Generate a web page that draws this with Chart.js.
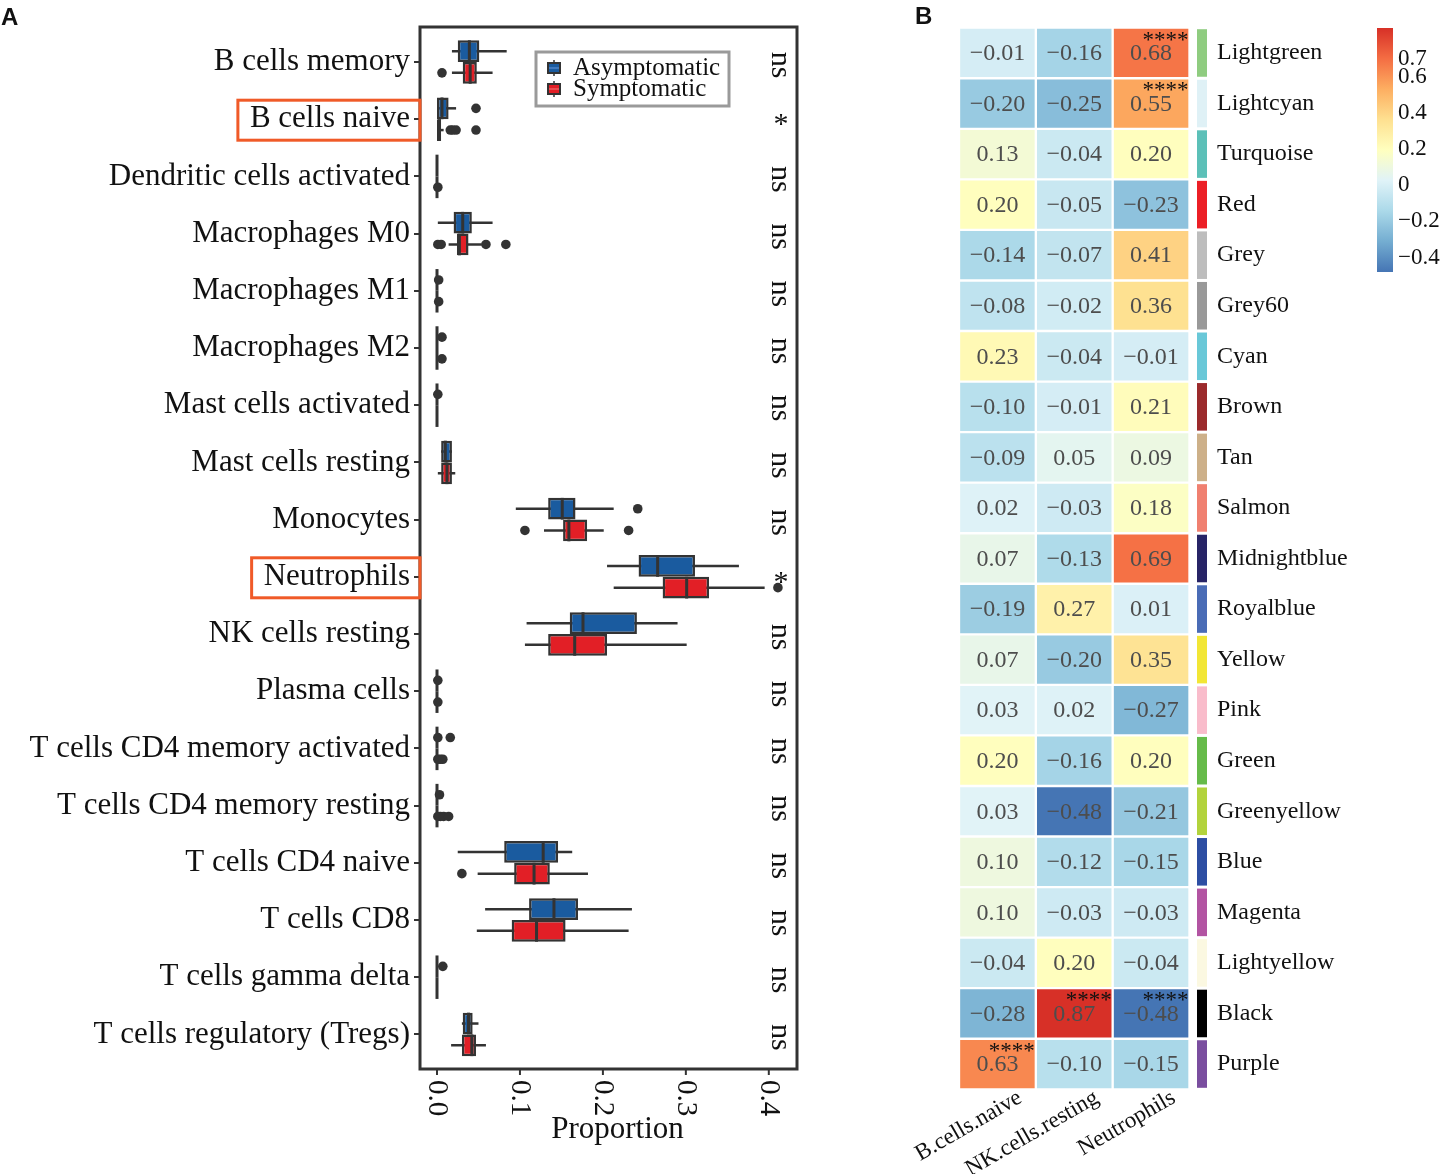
<!DOCTYPE html>
<html>
<head>
<meta charset="utf-8">
<script src="https://cdn.jsdelivr.net/npm/chart.js@4.4.0/dist/chart.umd.min.js"></script>
<style>
    body { margin: 0; background: #fff; width: 1443px; height: 1174px; position: relative; overflow: hidden; }
    canvas { position: absolute; top: 0; }
    #boxChart { left: 0; }
    #heatChart { left: 900px; }
</style>
</head>
<body>
<canvas id="boxChart" width="900" height="1174"></canvas>
<canvas id="heatChart" width="543" height="1174"></canvas>
<script>
/* Panel A data: immune cell proportions */
let cellTypes = ["B cells memory", "B cells naive", "Dendritic cells activated", "Macrophages M0",
    "Macrophages M1", "Macrophages M2", "Mast cells activated", "Mast cells resting", "Monocytes",
    "Neutrophils", "NK cells resting", "Plasma cells", "T cells CD4 memory activated",
    "T cells CD4 memory resting", "T cells CD4 naive", "T cells CD8", "T cells gamma delta",
    "T cells regulatory (Tregs)"];
let significance = ["ns", "*", "ns", "ns", "ns", "ns", "ns", "ns", "ns", "*", "ns", "ns", "ns", "ns", "ns", "ns", "ns", "ns"];
let highlighted = ["B cells naive", "Neutrophils"];
let xTicks = [0.0, 0.1, 0.2, 0.3, 0.4];

let asymLo  = [0.018, 0, 0, 0.001, 0, 0, 0, 0.005, 0.095, 0.205, 0.108, 0, 0, 0, 0.025, 0.058, 0, 0.030];
let asymQ1  = [0.025, 0, 0, 0.020, 0, 0, 0, 0.005, 0.134, 0.243, 0.160, 0, 0, 0, 0.081, 0.111, 0, 0.031];
let asymMed = [0.039, 0.006, 0, 0.031, 0, 0, 0, 0.010, 0.151, 0.266, 0.176, 0, 0, 0, 0.128, 0.141, 0, 0.038];
let asymQ3  = [0.051, 0.014, 0, 0.042, 0, 0, 0, 0.018, 0.167, 0.311, 0.241, 0, 0, 0, 0.146, 0.170, 0, 0.043];
let asymHi  = [0.084, 0.023, 0, 0.067, 0, 0, 0, 0.018, 0.213, 0.364, 0.290, 0, 0, 0, 0.163, 0.235, 0, 0.050];
let asymOut = [[], [0.047], [], [], [0.002], [0.006], [0.001], [], [0.242], [], [], [0.001],
    [0.001, 0.016], [0.003], [], [], [0.007], []];

let symLo  = [0.018, 0, 0, 0.014, 0, 0, 0, 0.001, 0.129, 0.213, 0.106, 0, 0, 0, 0.049, 0.048, 0, 0.017];
let symQ1  = [0.031, 0, 0, 0.024, 0, 0, 0, 0.005, 0.152, 0.272, 0.134, 0, 0, 0, 0.093, 0.090, 0, 0.030];
let symMed = [0.040, 0.003, 0, 0.027, 0, 0, 0, 0.012, 0.159, 0.301, 0.166, 0, 0, 0, 0.117, 0.120, 0, 0.042];
let symQ3  = [0.048, 0.005, 0, 0.038, 0, 0, 0, 0.018, 0.181, 0.328, 0.205, 0, 0, 0, 0.136, 0.155, 0, 0.047];
let symHi  = [0.067, 0.008, 0, 0.054, 0, 0, 0, 0.022, 0.201, 0.395, 0.301, 0, 0, 0, 0.182, 0.231, 0, 0.059];
let symOut = [[0.006], [0.016, 0.019, 0.023, 0.047], [0.001], [0.001, 0.005, 0.059, 0.083], [0.002],
    [0.006], [], [], [0.106, 0.231], [0.411], [], [0.001], [0.001, 0.004, 0.007],
    [0.001, 0.004, 0.008, 0.014], [0.030], [], [], []];

/* Panel B data: module-trait correlations */
let modules = ["Lightgreen", "Lightcyan", "Turquoise", "Red", "Grey", "Grey60", "Cyan", "Brown", "Tan",
    "Salmon", "Midnightblue", "Royalblue", "Yellow", "Pink", "Green", "Greenyellow", "Blue", "Magenta",
    "Lightyellow", "Black", "Purple"];
let moduleColors = ["#8fcc80", "#dff1f6", "#5cc0b8", "#ec1f26", "#bdbdbd", "#999999", "#69c8d8", "#9b2a2c",
    "#cdb089", "#f08070", "#272466", "#4a6cb6", "#f2e635", "#f9bccb", "#66bb4a", "#b2d33c", "#2d4ea3",
    "#b254a2", "#fbf8e1", "#000000", "#7a4e9f"];
let traits = ["B.cells.naive", "NK.cells.resting", "Neutrophils"];
let corrBNaive = [-0.01, -0.20, 0.13, 0.20, -0.14, -0.08, 0.23, -0.10, -0.09, 0.02, 0.07, -0.19, 0.07, 0.03, 0.20, 0.03, 0.10, 0.10, -0.04, -0.28, 0.63];
let corrNK     = [-0.16, -0.25, -0.04, -0.05, -0.07, -0.02, -0.04, -0.01, 0.05, -0.03, -0.13, 0.27, -0.20, 0.02, -0.16, -0.48, -0.12, -0.03, 0.20, 0.87, -0.10];
let corrNeut   = [0.68, 0.55, 0.20, -0.23, 0.41, 0.36, -0.01, 0.21, 0.09, 0.18, 0.69, 0.01, 0.35, -0.27, 0.20, -0.21, -0.15, -0.03, -0.04, -0.48, -0.15];
let starsBNaive = ["", "", "", "", "", "", "", "", "", "", "", "", "", "", "", "", "", "", "", "", "****"];
let starsNK     = ["", "", "", "", "", "", "", "", "", "", "", "", "", "", "", "", "", "", "", "****", ""];
let starsNeut   = ["****", "****", "", "", "", "", "", "", "", "", "", "", "", "", "", "", "", "", "", "****", ""];
let legendTicks = [0.7, 0.6, 0.4, 0.2, 0, -0.2, -0.4];

let serif = "'Liberation Serif', 'DejaVu Serif', serif";
let dark = "#333333";

/* Box whiskers, medians, outliers drawn on the x scale */
const boxPlugin = {
    id: "boxes",
    beforeDatasetsDraw(chart) {
        const ctx = chart.ctx, xs = chart.scales.x;
        ctx.save();
        ctx.strokeStyle = dark;
        ctx.lineWidth = 2.5;
        chart.data.datasets.forEach((ds, d) => {
            chart.getDatasetMeta(d).data.forEach((bar, i) => {
                ctx.beginPath();
                ctx.moveTo(xs.getPixelForValue(ds.lo[i]), bar.y);
                ctx.lineTo(xs.getPixelForValue(ds.hi[i]), bar.y);
                ctx.stroke();
            });
        });
        ctx.restore();
    },
    afterDatasetsDraw(chart) {
        const ctx = chart.ctx, xs = chart.scales.x;
        ctx.save();
        chart.data.datasets.forEach((ds, d) => {
            chart.getDatasetMeta(d).data.forEach((bar, i) => {
                let mx = xs.getPixelForValue(ds.med[i]);
                ctx.strokeStyle = dark;
                ctx.lineWidth = 3;
                ctx.beginPath();
                ctx.moveTo(mx, bar.y - bar.height / 2);
                ctx.lineTo(mx, bar.y + bar.height / 2);
                ctx.stroke();
                ctx.fillStyle = dark;
                ds.out[i].forEach(v => {
                    ctx.beginPath();
                    ctx.arc(xs.getPixelForValue(v), bar.y, 4.8, 0, Math.PI * 2);
                    ctx.fill();
                });
            });
        });
        ctx.restore();
    },
    afterDraw(chart) {
        const ctx = chart.ctx, xs = chart.scales.x, ys = chart.scales.y, a = chart.chartArea;
        const frameTop = a.top - 6.4, frameBottom = a.bottom + 6;
        ctx.save();
        // frame
        ctx.strokeStyle = dark;
        ctx.lineWidth = 3;
        ctx.strokeRect(a.left, frameTop, a.right - a.left, frameBottom - frameTop);
        // x ticks, rotated labels
        ctx.lineWidth = 2;
        ctx.fillStyle = "#111";
        ctx.font = "29px " + serif;
        xTicks.forEach(v => {
            let px = xs.getPixelForValue(v);
            ctx.beginPath();
            ctx.moveTo(px, frameBottom);
            ctx.lineTo(px, frameBottom + 6);
            ctx.stroke();
            ctx.save();
            ctx.translate(px, frameBottom + 11);
            ctx.rotate(Math.PI / 2);
            ctx.textAlign = "left";
            ctx.textBaseline = "middle";
            ctx.fillText(v.toFixed(1), 0, 0);
            ctx.restore();
        });
        ctx.font = "31px " + serif;
        ctx.textAlign = "center";
        ctx.textBaseline = "middle";
        ctx.fillText("Proportion", (a.left + a.right) / 2 + 9, 1130);
        // significance
        significance.forEach((s, i) => {
            let py = ys.getPixelForValue(i);
            ctx.save();
            ctx.font = "30px " + serif;
            if (s === "ns") {
                ctx.translate(a.right - 17, py + 3);
                ctx.rotate(Math.PI / 2);
                ctx.fillText(s, 0, 0);
            } else {
                ctx.fillText(s, a.right - 16, py + 6);
            }
            ctx.restore();
        });
        // highlighted labels
        ctx.font = "31px " + serif;
        ctx.strokeStyle = "#f05a28";
        ctx.lineWidth = 3;
        highlighted.forEach(name => {
            let i = cellTypes.indexOf(name);
            let py = ys.getPixelForValue(i);
            let w = ctx.measureText(name).width;
            let right = a.left - 6;
            ctx.strokeRect(right - 4 - w - 12, py - 19, w + 12 + 10, 40);
        });
        // legend
        let lx = a.left + 116, ly = frameTop + 25;
        ctx.strokeStyle = "#9a9a9a";
        ctx.lineWidth = 3;
        ctx.strokeRect(lx, ly, 193, 54);
        ctx.font = "25px " + serif;
        ctx.textAlign = "left";
        ctx.fillStyle = "#111";
        chart.data.datasets.forEach((ds, d) => {
            let cy = ly + 16 + d * 21;
            ctx.strokeStyle = dark;
            ctx.lineWidth = 1.5;
            ctx.beginPath();
            ctx.moveTo(lx + 18, cy - 8);
            ctx.lineTo(lx + 18, cy + 8);
            ctx.stroke();
            ctx.fillStyle = ds.backgroundColor;
            ctx.fillRect(lx + 12, cy - 5, 12, 10);
            ctx.lineWidth = 2;
            ctx.strokeRect(lx + 12, cy - 5, 12, 10);
            ctx.strokeStyle = d === 0 ? "#5d8fd0" : "#f07070";
            ctx.lineWidth = 1.2;
            ctx.beginPath();
            ctx.moveTo(lx + 13, cy);
            ctx.lineTo(lx + 23, cy);
            ctx.stroke();
            ctx.fillStyle = "#111";
            ctx.fillText(ds.label, lx + 37, cy);
        });
        // panel letter
        ctx.font = "bold 24px 'Liberation Sans', Arial, sans-serif";
        ctx.textBaseline = "alphabetic";
        ctx.fillText("A", 1, 25);
        ctx.restore();
    }
};

new Chart("boxChart", {
    type: "bar",
    data: {
        labels: cellTypes,
        datasets: [{
            label: "Asymptomatic",
            data: asymQ1.map((v, i) => [v, asymQ3[i]]),
            lo: asymLo, med: asymMed, hi: asymHi, out: asymOut,
            backgroundColor: "#1a5b9f",
            borderColor: dark, borderWidth: 2.5, borderSkipped: false,
            categoryPercentage: 0.76, barPercentage: 1
        }, {
            label: "Symptomatic",
            data: symQ1.map((v, i) => [v, symQ3[i]]),
            lo: symLo, med: symMed, hi: symHi, out: symOut,
            backgroundColor: "#e21f26",
            borderColor: dark, borderWidth: 2.5, borderSkipped: false,
            categoryPercentage: 0.76, barPercentage: 1
        }]
    },
    options: {
        indexAxis: "y",
        responsive: false,
        animation: false,
        layout: { padding: { top: 33.4, right: 103, left: 0, bottom: 0 } },
        plugins: { legend: { display: false }, tooltip: { enabled: false } },
        scales: {
            x: {
                min: -0.0205, max: 0.434,
                ticks: { display: false }, grid: { display: false }, border: { display: false },
                afterFit(s) { s.height = 111; }
            },
            y: {
                ticks: { autoSkip: false, font: { family: serif, size: 31 }, color: "#111", padding: 4 },
                grid: { offset: false, drawOnChartArea: false, color: dark, lineWidth: 2, tickLength: 6 },
                border: { display: false },
                afterFit(s) { s.width = 420; }
            }
        }
    },
    plugins: [boxPlugin]
});

/* Heatmap colours (RdYlBu, reversed) */
let palette = ["#4575b4", "#74add1", "#abd9e9", "#e0f3f8", "#ffffbf", "#fee090", "#fdae61", "#f46d43", "#d73027"];
let allCorr = corrBNaive.concat(corrNK, corrNeut);
let cMin = Math.min(...allCorr), cMax = Math.max(...allCorr);

function hexToRgb(h) {
    return [parseInt(h.slice(1, 3), 16), parseInt(h.slice(3, 5), 16), parseInt(h.slice(5, 7), 16)];
}
function heatColor(v) {
    let t = (v - cMin) / (cMax - cMin) * (palette.length - 1);
    let k = Math.min(Math.floor(t), palette.length - 2), f = t - k;
    let a = hexToRgb(palette[k]), b = hexToRgb(palette[k + 1]);
    let c = a.map((x, j) => Math.round(x + (b[j] - x) * f));
    return "rgb(" + c.join(",") + ")";
}
function fmt(v) {
    return v.toFixed(2).replace("-", "\u2212");
}

let corrCols = [corrBNaive, corrNK, corrNeut];
let starCols = [starsBNaive, starsNK, starsNeut];

const heatPlugin = {
    id: "heatText",
    afterDatasetsDraw(chart) {
        const ctx = chart.ctx, a = chart.chartArea;
        ctx.save();
        chart.data.datasets.forEach((ds, r) => {
            chart.getDatasetMeta(r).data.forEach((cell, c) => {
                let cy = (cell.y + cell.base) / 2;
                let top = Math.min(cell.y, cell.base);
                ctx.font = "24px " + serif;
                ctx.fillStyle = "#4d4d4d";
                ctx.textAlign = "center";
                ctx.textBaseline = "middle";
                ctx.fillText(fmt(corrCols[c][r]), cell.x, cy + 1);
                if (starCols[c][r]) {
                    ctx.font = "23px " + serif;
                    ctx.fillStyle = "#111";
                    ctx.textAlign = "right";
                    ctx.fillText(starCols[c][r], cell.x + cell.width / 2 - 1, top + 13);
                }
            });
            // module colour strip and name
            let cell0 = chart.getDatasetMeta(r).data[0];
            let h = Math.abs(cell0.base - cell0.y);
            let top = Math.min(cell0.base, cell0.y);
            ctx.fillStyle = moduleColors[r];
            ctx.fillRect(a.right + 7.5, top + 1.5, 10, h - 3);
            ctx.fillStyle = "#111";
            ctx.font = "24px " + serif;
            ctx.textAlign = "left";
            ctx.textBaseline = "middle";
            ctx.fillText(ds.label, a.right + 27.5, top + h / 2);
        });
        // column labels
        let meta0 = chart.getDatasetMeta(0).data;
        ctx.font = "23px " + serif;
        ctx.fillStyle = "#111";
        traits.forEach((t, c) => {
            ctx.save();
            ctx.translate(meta0[c].x + 17, a.bottom - 3);
            ctx.rotate(-Math.PI / 6);
            ctx.textAlign = "right";
            ctx.textBaseline = "top";
            ctx.fillText(t, 0, 0);
            ctx.restore();
        });
        // colour bar
        let bx = 477, bTop = 28, bBot = 272;
        let grad = ctx.createLinearGradient(0, bTop, 0, bBot);
        palette.forEach((p, k) => grad.addColorStop(1 - k / (palette.length - 1), p));
        ctx.fillStyle = grad;
        ctx.fillRect(bx, bTop, 16, bBot - bTop);
        ctx.font = "23px " + serif;
        ctx.fillStyle = "#111";
        ctx.textAlign = "left";
        ctx.textBaseline = "middle";
        legendTicks.forEach(v => {
            let py = bTop + (cMax - v) / (cMax - cMin) * (bBot - bTop);
            ctx.fillText(v === 0 ? "0" : fmt(v).replace(/0$/, ""), bx + 21, py);
        });
        // panel letter
        ctx.font = "bold 24px 'Liberation Sans', Arial, sans-serif";
        ctx.textBaseline = "alphabetic";
        ctx.fillText("B", 15, 24);
        ctx.restore();
    }
};

new Chart("heatChart", {
    type: "bar",
    data: {
        labels: traits,
        datasets: modules.map((m, r) => ({
            label: m,
            data: traits.map(() => 1),
            backgroundColor: corrCols.map(col => heatColor(col[r])),
            borderColor: "#ffffff", borderWidth: 1.5, borderSkipped: false,
            barPercentage: 1, categoryPercentage: 1
        }))
    },
    options: {
        responsive: false,
        animation: false,
        layout: { padding: { left: 59, right: 253.5, top: 27.7, bottom: 84.7 } },
        plugins: { legend: { display: false }, tooltip: { enabled: false } },
        scales: {
            x: { display: false, stacked: true },
            y: { display: false, stacked: true, min: 0, max: modules.length, reverse: true }
        }
    },
    plugins: [heatPlugin]
});
</script>
</body>
</html>
